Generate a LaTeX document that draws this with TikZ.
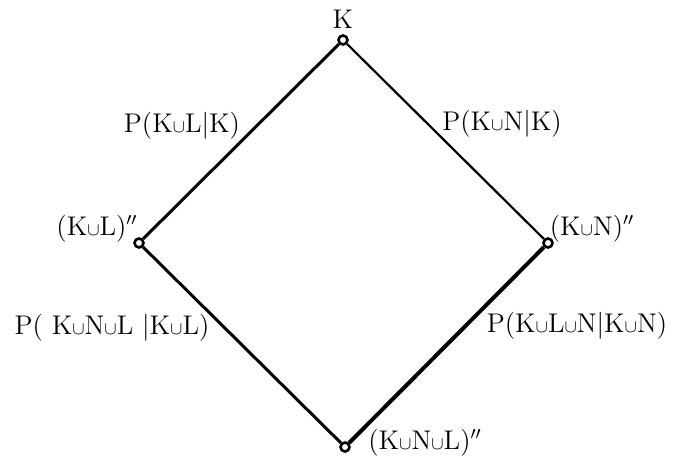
\documentclass[tikz,border=0pt]{standalone}
\begin{document}
\begin{tikzpicture}[x=0.5pt,y=-0.5pt,
  vtx/.style={circle,draw,fill=white,line width=1.3pt,inner sep=0pt,minimum size=4.5pt},
  edge/.style={line width=1.5pt},
  lbl/.style={font=\fontsize{13.5}{16}\selectfont,inner sep=0pt}]
\useasboundingbox (0,0) rectangle (678,461);
\newcommand\un{\ensuremath{\scriptstyle\cup}}
\node[vtx] (k) at (343,40) {};
\node[vtx] (l) at (139,243) {};
\node[vtx] (n) at (548,243) {};
\node[vtx] (b) at (345,447) {};
\draw[edge] (k) -- (l);
\draw[edge,line width=1.1pt] (k) -- (n);
\draw[edge] (l) -- (b);
\draw[edge,line width=2pt] (n) -- (b);
\node[lbl] (tk) at (343,19) {K};
\node[lbl] (t1) at (182,126) {P(K\un L|K)};
\node[lbl] (t2) at (502,124) {P(K\un N|K)};
\node[lbl] (t3) at (97,229) {(K\un L)$''$};
\node[lbl] (t4) at (592,229) {(K\un N)$''$};
\node[lbl] (t5) at (112,328) {P( K\un N\un L |K\un L)};
\node[lbl] (t6) at (577,326) {P(K\un L\un N|K\un N)};
\node[lbl] (t7) at (425,443) {(K\un N\un L)$''$};
\end{tikzpicture}
\end{document}
